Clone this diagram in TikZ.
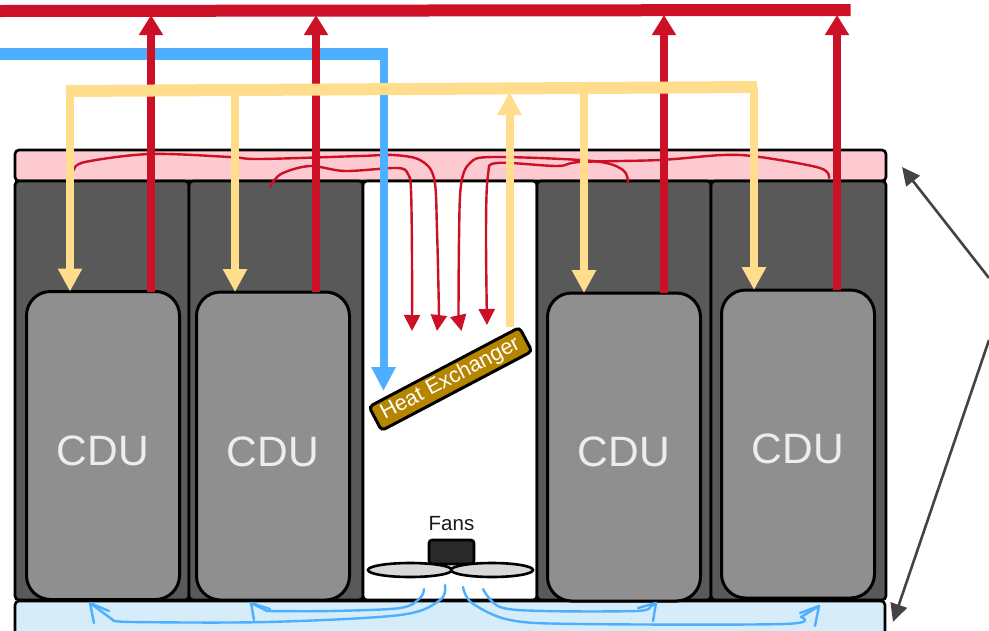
\documentclass[tikz,border=0pt]{standalone}
\usepackage{fontspec}
\setmainfont{Liberation Sans}
\usetikzlibrary{arrows.meta,shapes.geometric}
\definecolor{pipered}{HTML}{CC1026}
\definecolor{pipeblue}{HTML}{4DAFFF}
\definecolor{pipeyellow}{HTML}{FFDD8C}
\definecolor{pinkbar}{HTML}{FCCAD0}
\definecolor{bluebar}{HTML}{D6ECF9}
\definecolor{rackgray}{HTML}{595959}
\definecolor{cdugray}{HTML}{8F8F8F}
\definecolor{hxbrown}{HTML}{B58500}
\definecolor{leadgray}{HTML}{434343}
\tikzset{
  panel/.style={draw=black,line width=2.6pt,rounded corners=4pt,inner sep=0pt,outer sep=0pt},
  rackbox/.style={panel,fill=rackgray,minimum width=174pt,minimum height=419pt},
  cdubox/.style={draw=black,line width=3pt,fill=cdugray,rounded corners=24pt,inner sep=0pt,outer sep=0pt,
    minimum width=153pt,minimum height=308pt},
  cdulabel/.style={text=white!93!black,font=\fontsize{42.5}{42.5}\selectfont,inner sep=0pt},
  redpipe/.style={draw=pipered,line width=8pt,-{Triangle[length=20pt,width=23pt]}},
  yellowpipe/.style={draw=pipeyellow,line width=8pt,-{Triangle[length=23pt,width=23pt]}},
  yellowmain/.style={draw=pipeyellow,line width=12pt},
  bluepipe/.style={draw=pipeblue,line width=8pt,-{Triangle[length=24pt,width=23pt]}},
  bluemain/.style={draw=pipeblue,line width=12pt},
  redmain/.style={draw=pipered,line width=12pt},
  redflow/.style={draw=pipered,line width=2.4pt,line cap=round,-{Triangle[length=16pt,width=16pt]}},
  blueflow/.style={draw=pipeblue,line width=2.4pt,line cap=round,line join=round},
  leader/.style={draw=leadgray,line width=2.6pt,-{Triangle[length=18pt,width=17pt]}},
}
\begin{document}
\begin{tikzpicture}[x=1pt,y=-1pt]
\useasboundingbox (0,0) rectangle (989,630);
\clip (0,0) rectangle (989,630);
% bars and racks
\node[panel,fill=pinkbar,minimum width=871pt,minimum height=31pt] (pink) at (450.5,165.5) {};
\node[panel,fill=bluebar,minimum width=870pt,minimum height=40pt] (bluebar) at (450,621) {};
\node[rackbox] (rack1) at (102,390.5) {};
\node[rackbox] (rack2) at (276,390.5) {};
\node[rackbox,fill=white] (rack3) at (450,390.5) {};
\node[rackbox] (rack4) at (624,390.5) {};
\node[rackbox,minimum width=175pt] (rack5) at (798.5,390.5) {};
% thin red flows
\coordinate (f1) at (74,170);
\coordinate (f2) at (270,187);
\coordinate (f3) at (628,183);
\coordinate (f4) at (829,178);
\draw[redflow] plot[smooth,tension=.55] coordinates {(f1) (85,162) (150,154) (230,157) (260,159) (360,156) (393,155) (420,160) (434,178) (437,230) (439,314)} -- (437,331);
\draw[redflow] plot[smooth,tension=.55] coordinates {(f2) (281,174) (310,166) (345,171) (397,168) (408,174) (411,190) (412,260) (412,331)};
\draw[redflow] plot[smooth,tension=.55] coordinates {(f3) (623,170) (593,161) (493,157) (470,163) (461,185) (459,240) (458.5,317)} -- (461.5,331);
\draw[redflow] plot[smooth,tension=.55] coordinates {(f4) (820,168) (760,157) (723,155) (660,160) (580,162) (557,166) (497,163) (488,175) (486,230) (487,325)};
% CDUs
\node[cdubox] (cdu1) at (103,445.5) {};
\node[cdubox] (cdu2) at (273,446) {};
\node[cdubox] (cdu3) at (624,447) {};
\node[cdubox] (cdu4) at (798,444) {};
\node[cdulabel] (lab1) at (103,451) {CDU};
\node[cdulabel] (lab2) at (273,452) {CDU};
\node[cdulabel] (lab3) at (624,452) {CDU};
\node[cdulabel] (lab4) at (798,449) {CDU};
% blue pipe
\coordinate (bs) at (0,54);
\coordinate (bc) at (383.5,54);
\coordinate (bt) at (383.5,391);
\draw[bluemain] (bs) -- (387.5,54);
\draw[bluepipe] (bc) -- (bt);
% red riser pipes
\coordinate (ra) at (151,15);
\coordinate (rb) at (316,15);
\coordinate (rc) at (664,15);
\coordinate (rd) at (837,15);
\coordinate (rs) at (0,11);
\coordinate (re) at (850.5,10);
\draw[redmain] (rs) -- (re);
\draw[redpipe] (cdu1.north -| ra) -- (ra);
\draw[redpipe] (cdu2.north -| rb) -- (rb);
\draw[redpipe] (cdu3.north -| rc) -- (rc);
\draw[redpipe] (cdu4.north -| rd) -- (rd);
% heat exchanger
\node[panel,fill=hxbrown,line width=3pt,minimum width=170pt,minimum height=27pt,rotate=27.8,text=white,font=\fontsize{21.5}{21.5}\selectfont] (hx) at (450.5,379) {Heat Exchanger};
% yellow pipes
\coordinate (ya) at (70,91);
\coordinate (yb) at (235,91);
\coordinate (yc) at (584,88);
\coordinate (yd) at (754,87);
\coordinate (yu) at (509.5,92);
\coordinate (yh) at (509.5,327);
\draw[yellowpipe] (ya) -- (ya |- cdu1.north);
\draw[yellowpipe] (yb) -- (yb |- cdu2.north);
\draw[yellowpipe] (yc) -- (yc |- cdu3.north);
\draw[yellowpipe] (yd) -- (yd |- cdu4.north);
\draw[yellowpipe] (yh) -- (yu);
\draw[yellowmain] (66,91) -- (757,87);
% fans
\node[panel,fill=black!84,rounded corners=3pt,minimum width=45pt,minimum height=24pt] (motor) at (451.5,552) {};
\node[draw=black,line width=2.6pt,fill=black!15,ellipse,inner sep=0pt,minimum width=84pt,minimum height=14pt] (fanl) at (410,570) {};
\node[draw=black,line width=2.6pt,fill=black!15,ellipse,inner sep=0pt,minimum width=82pt,minimum height=14pt] (fanr) at (492,570) {};
\node[font=\fontsize{20.5}{20.5}\selectfont,text=black!90,inner sep=0pt] (fans) at (451.5,524) {Fans};
% thin blue flows
\draw[blueflow] plot[smooth,tension=.55] coordinates {(424,589) (420,598) (400,608) (330,611) (267,611)} -- (251,603) -- (254,620);
\draw[blueflow] (251,603) -- (270,609);
\draw[blueflow] plot[smooth,tension=.55] coordinates {(445,585) (440,600) (400,615) (267,622) (133,622) (113,620)} -- (90,603) -- (94,623);
\draw[blueflow] (90,603) -- (109,611);
\draw[blueflow] plot[smooth,tension=.55] coordinates {(483,589) (500,607) (545,611) (636,611) (650,607)} -- (656,603) -- (653,621);
\draw[blueflow] (656,603) -- (638,608);
\draw[blueflow] plot[smooth,tension=.55] coordinates {(463,587) (472,603) (510,620) (580,624) (784,624) (801,617)} -- (819,606) -- (815,626);
\draw[blueflow] (819,606) -- (800,613);
% leaders
\coordinate (la) at (989,278);
\coordinate (lb) at (902,167);
\coordinate (lc) at (989,340);
\coordinate (ld) at (893,622);
\draw[leader] (la) -- (lb);
\draw[leader] (lc) -- (ld);
\end{tikzpicture}
\end{document}
